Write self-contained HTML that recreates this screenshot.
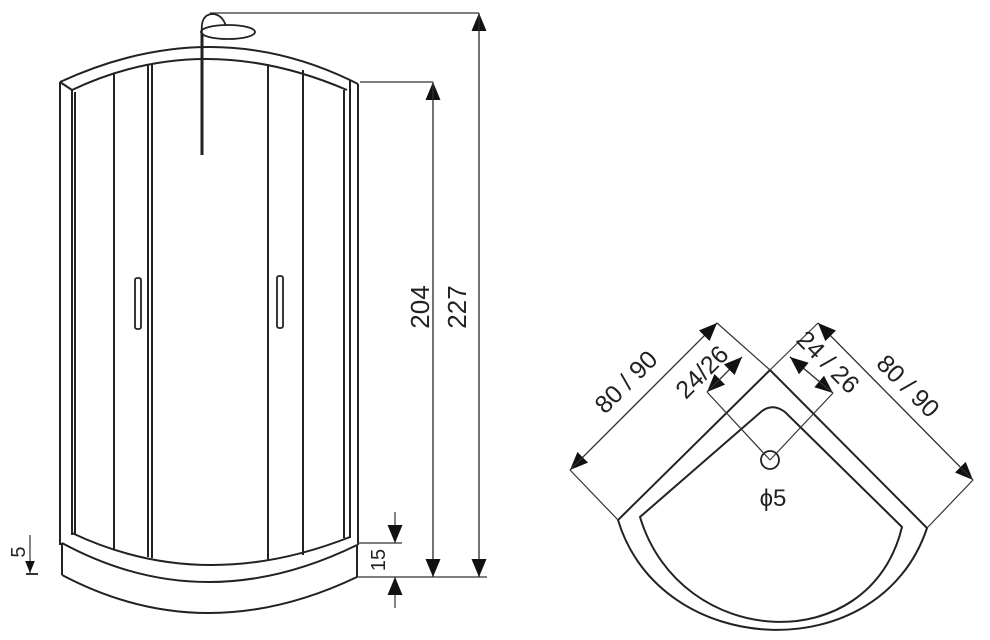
<!DOCTYPE html>
<html><head><meta charset="utf-8"><style>
html,body{margin:0;padding:0;background:#fff;}
svg{display:block;}
text{font-family:"Liberation Sans",sans-serif;fill:#222;}
</style></head><body>
<svg width="990" height="640" viewBox="0 0 990 640" xmlns="http://www.w3.org/2000/svg">
<defs>
<marker id="a" viewBox="0 0 10 10" refX="10" refY="5" markerWidth="12" markerHeight="12" markerUnits="userSpaceOnUse" orient="auto"><path d="M0,1 L10,5 L0,9 Z" fill="#111"/></marker>
<marker id="b" viewBox="0 0 12 10" refX="12" refY="5" markerWidth="20" markerHeight="15" markerUnits="userSpaceOnUse" orient="auto"><path d="M0,0 L12,5 L0,10 Z" fill="#111"/></marker>
</defs>
<g fill="none" stroke="#222" stroke-width="2">
<path d="M60,82 Q210,13 350,80"/>
<path d="M72,90 Q203,28 347,90"/>
<line x1="60" y1="82" x2="72" y2="90"/>
<line x1="350" y1="80" x2="358" y2="84"/>
<line x1="60" y1="82" x2="60" y2="545"/>
<line x1="72" y1="90" x2="72" y2="535"/>
<line x1="75" y1="92" x2="75" y2="535"/>
<line x1="350" y1="80" x2="350" y2="538"/>
<line x1="358" y1="84" x2="358" y2="545"/>
<line x1="344" y1="90" x2="344" y2="538"/>
<line x1="114" y1="74" x2="114" y2="549"/>
<line x1="148" y1="65" x2="148" y2="557"/>
<line x1="152" y1="64" x2="152" y2="558"/>
<line x1="268" y1="64" x2="268" y2="560"/>
<line x1="303" y1="70" x2="303" y2="555"/>
<rect x="135" y="278" width="6" height="51" rx="2" stroke-width="1.8"/>
<rect x="277" y="276" width="6" height="52" rx="2" stroke-width="1.8"/>
<line x1="202" y1="33" x2="202" y2="155" stroke-width="3"/>
<path d="M202,33 Q200,15 212,14 Q222,14 226,26" stroke-width="1.8"/>
<ellipse cx="228" cy="32" rx="27" ry="7" stroke-width="1.8"/>
<path d="M72,533 Q203,595 350,537"/>
<path d="M62,543 Q204,620 357,545"/>
<path d="M62,575 Q204,650 357,577"/>
<line x1="62" y1="543" x2="62" y2="575"/>
<line x1="357" y1="545" x2="357" y2="577"/>
</g>
<g stroke="#333" stroke-width="1.2" fill="none">
<line x1="210" y1="13" x2="479" y2="13"/>
<line x1="360" y1="82" x2="433" y2="82"/>
<line x1="357" y1="577" x2="487" y2="577"/>
<line x1="357" y1="543" x2="402" y2="543"/>
<line x1="479" y1="577" x2="479" y2="13" marker-end="url(#b)"/>
<line x1="479" y1="13" x2="479" y2="577" marker-end="url(#b)"/>
<line x1="433" y1="577" x2="433" y2="82" marker-end="url(#b)"/>
<line x1="433" y1="82" x2="433" y2="577" marker-end="url(#b)"/>
<line x1="395" y1="512" x2="395" y2="543" marker-end="url(#b)"/>
<line x1="395" y1="608" x2="395" y2="577" marker-end="url(#b)"/>
<line x1="30" y1="535" x2="30" y2="573" marker-end="url(#a)"/>
<line x1="26" y1="574" x2="38" y2="574" stroke-width="2"/>
</g>
<text transform="translate(429,307) rotate(-90)" font-size="26" text-anchor="middle">204</text>
<text transform="translate(466,307) rotate(-90)" font-size="26" text-anchor="middle">227</text>
<text transform="translate(385,560) rotate(-90)" font-size="20" text-anchor="middle">15</text>
<text transform="translate(25,552) rotate(-90)" font-size="20" text-anchor="middle">5</text>

<g fill="none" stroke="#222" stroke-width="2">
<path d="M770,370 L618,520 C660,660 880,670 927,528 Z"/>
<path d="M640,517 L762,411 Q773,403 785,412 L902,527 C870,660 680,650 640,517 Z"/>
<circle cx="770" cy="460" r="9" stroke-width="1.8"/>
</g>
<g stroke="#333" stroke-width="1.2" fill="none">
<line x1="717" y1="323" x2="770" y2="370"/>
<line x1="570" y1="470" x2="618" y2="520"/>
<line x1="818" y1="323" x2="770" y2="370"/>
<line x1="973" y1="480" x2="927" y2="528"/>
<line x1="707" y1="392" x2="770" y2="460"/>
<line x1="833" y1="393" x2="770" y2="460"/>
<line x1="717" y1="323" x2="570" y2="470" marker-end="url(#b)"/>
<line x1="570" y1="470" x2="717" y2="323" marker-end="url(#b)"/>
<line x1="818" y1="323" x2="973" y2="480" marker-end="url(#b)"/>
<line x1="973" y1="480" x2="818" y2="323" marker-end="url(#b)"/>
<line x1="742" y1="357" x2="707" y2="392" marker-end="url(#b)"/>
<line x1="707" y1="392" x2="742" y2="357" marker-end="url(#b)"/>
<line x1="790" y1="357" x2="833" y2="393" marker-end="url(#b)"/>
<line x1="833" y1="393" x2="790" y2="357" marker-end="url(#b)"/>
</g>
<text transform="translate(632,388) rotate(-45)" font-size="25" text-anchor="middle">80 / 90</text>
<text transform="translate(708,378) rotate(-45)" font-size="25" text-anchor="middle">24/26</text>
<text transform="translate(822,368) rotate(45)" font-size="25" text-anchor="middle">24 / 26</text>
<text transform="translate(902,392) rotate(45)" font-size="25" text-anchor="middle">80 / 90</text>
<text x="773" y="506" font-size="24" text-anchor="middle">ϕ5</text>
</svg>
</body></html>
